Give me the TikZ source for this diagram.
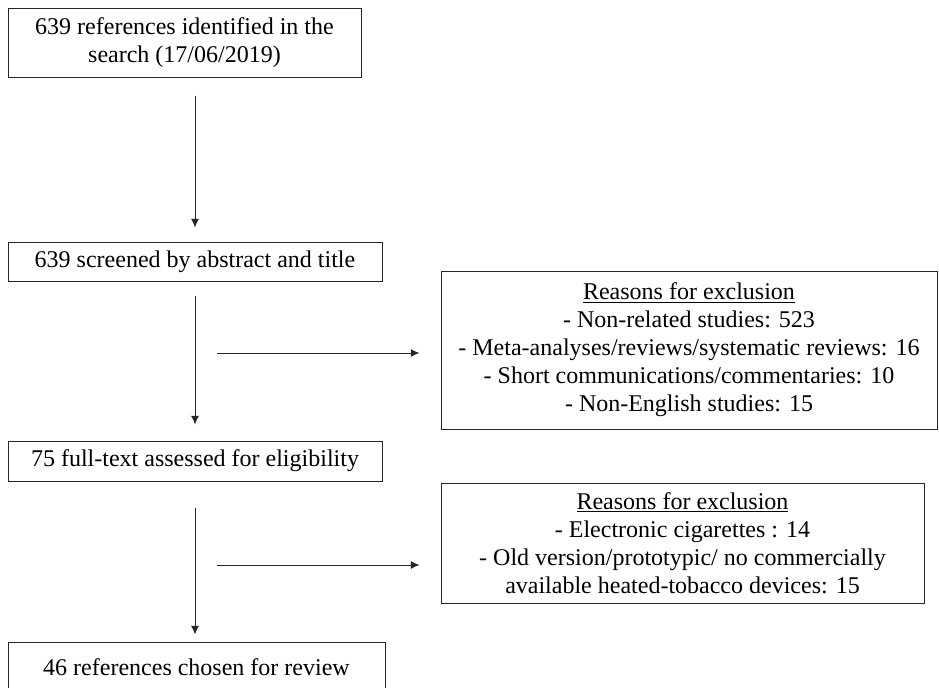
\documentclass[tikz,border=0pt]{standalone}
\usepackage{fontspec}
\setmainfont{Liberation Serif}
\usetikzlibrary{arrows.meta}
\begin{document}
\begin{tikzpicture}[x=0.75pt,y=-0.75pt,
  stagebox/.style={draw=black!85,line width=0.75pt,inner sep=0pt,align=center,
    font=\fontsize{18}{21}\selectfont},
  flow/.style={draw=black!85,line width=0.75pt,->,>={Latex[length=6.5pt,width=6pt]}}]
\useasboundingbox (0,0) rectangle (939,687);

% Stages
\node[stagebox,minimum width=264.75pt,minimum height=51.75pt] (search) at (184.5,42.5)
  {639 references identified in the\\search (17/06/2019)};
\node[stagebox,minimum width=280.5pt,minimum height=29.25pt] (screen) at (195,261.5)
  {639 screened by abstract and title};
\node[stagebox,minimum width=280.5pt,minimum height=30pt] (fulltext) at (195,461)
  {75 full-text assessed for eligibility};
\node[stagebox,minimum width=282.75pt,minimum height=37.5pt] (chosen) at (196.5,667)
  {46 references chosen for review};

% Exclusions
\node[stagebox,minimum width=372pt,minimum height=118.5pt] (reasons1) at (689,350)
  {\underline{Reasons for exclusion}\\- Non-related studies: 523\\
   - Meta-analyses/reviews/systematic reviews: 16\\
   - Short communications/commentaries: 10\\- Non-English studies: 15};
\node[stagebox,minimum width=362.25pt,minimum height=90pt] (reasons2) at (682.5,543)
  {\underline{Reasons for exclusion}\\- Electronic cigarettes : 14\\
   - Old version/prototypic/ no commercially\\available heated-tobacco devices: 15};

% Arrows down
\draw[flow,shorten <=13.5pt,shorten >=10.5pt] (search.south -| screen.center) -- (screen.north);
\draw[flow,shorten <=10.5pt,shorten >=12pt] (screen.south) -- (fulltext.north);
\draw[flow,shorten <=19.5pt,shorten >=5.25pt] (fulltext.south) -- (chosen.north -| fulltext.south);

% Arrows right
\coordinate (ex1) at (217,353);
\coordinate (ex2) at (217,565);
\draw[flow,shorten >=15.75pt] (ex1) -- (ex1 -| reasons1.west);
\draw[flow,shorten >=15.75pt] (ex2) -- (ex2 -| reasons2.west);
\end{tikzpicture}
\end{document}
